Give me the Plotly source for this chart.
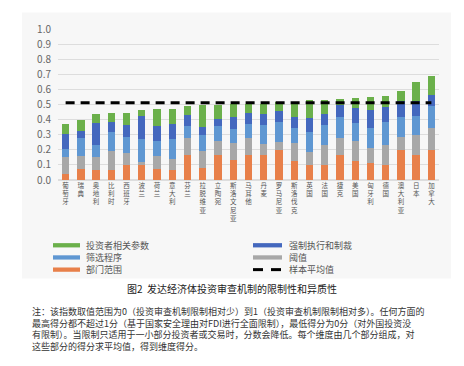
import plotly.graph_objects as go

countries = ["葡萄牙", "瑞典", "奥地利", "比利时", "西班牙", "波兰", "荷兰", "意大利", "芬兰",
             "拉脱维亚", "立陶宛", "斯洛文尼亚", "马耳他", "丹麦", "罗马尼亚", "斯洛伐克", "英国",
             "法国", "捷克", "美国", "匈牙利", "德国", "澳大利亚", "日本", "加拿大"]

sector_scope = [0.043, 0.075, 0.065, 0.065, 0.097, 0.097, 0.073, 0.064, 0.168, 0.082, 0.167, 0.133,
                0.168, 0.168, 0.200, 0.129, 0.097, 0.097, 0.166, 0.129, 0.112, 0.097, 0.200, 0.167, 0.200]
threshold = [0.112, 0.086, 0.090, 0.129, 0.081, 0.021, 0.084, 0.076, 0.112, 0.112, 0.091, 0.110,
             0.109, 0.071, 0.052, 0.116, 0.086, 0.137, 0.111, 0.127, 0.101, 0.136, 0.084, 0.133, 0.147]
screening = [0.049, 0.114, 0.077, 0.122, 0.108, 0.155, 0.101, 0.129, 0.075, 0.103, 0.097, 0.097,
             0.095, 0.127, 0.133, 0.099, 0.133, 0.129, 0.142, 0.124, 0.129, 0.151, 0.135, 0.124, 0.142]
enforcement = [0.101, 0.048, 0.148, 0.067, 0.075, 0.151, 0.097, 0.103, 0.075, 0.053, 0.049, 0.075,
               0.073, 0.074, 0.073, 0.071, 0.097, 0.074, 0.076, 0.097, 0.123, 0.100, 0.101, 0.096, 0.073]
investor = [0.067, 0.075, 0.054, 0.058, 0.084, 0.038, 0.112, 0.097, 0.060, 0.145, 0.096, 0.090,
            0.060, 0.065, 0.056, 0.103, 0.114, 0.094, 0.043, 0.067, 0.083, 0.074, 0.068, 0.132, 0.130]
sample_avg = 0.512

y_ticks = [0.0, 0.1, 0.2, 0.3, 0.4, 0.5, 0.6, 0.7, 0.8, 0.9, 1.0]

C_ORANGE = "#E8804A"
C_GRAY = "#A8A8A8"
C_LBLUE = "#5F97D2"
C_DBLUE = "#4468BE"
C_GREEN = "#6BB04B"

FONT = "Noto Sans CJK SC"

series = [
    ("部门范围", sector_scope, C_ORANGE),
    ("阈值", threshold, C_GRAY),
    ("筛选程序", screening, C_LBLUE),
    ("强制执行和制裁", enforcement, C_DBLUE),
    ("投资者相关参数", investor, C_GREEN),
]

fig = go.Figure()
for name, vals, col in series:
    fig.add_trace(go.Bar(x=countries, y=vals, name=name, marker=dict(color=col, line=dict(width=0)),
                         showlegend=False))

fig.add_trace(go.Scatter(x=countries, y=[sample_avg] * len(countries), mode="lines", name="样本平均值",
                         line=dict(color="black", width=3, dash="9px,6px"), showlegend=False))

vert_labels = ["<br>".join(list(c)) for c in countries]

# geometry helpers (pixel -> paper)
L, R, T, B = 50, 33, 17, 194
W, H = 464, 366
PW = W - L - R
PH = H - T - B
def px(x):
    return (x - L) / PW
def py(y):
    return (H - B - y) / PH

shapes = [
    dict(type="rect", xref="paper", yref="paper", x0=px(14), x1=px(443), y0=py(273), y1=py(0),
         fillcolor="#f7f7f7", line=dict(width=0), layer="below"),
]
annotations = []

legend_left = [("投资者相关参数", C_GREEN, 239), ("筛选程序", C_LBLUE, 251.5), ("部门范围", C_ORANGE, 264)]
legend_right = [("强制执行和制裁", C_DBLUE, 239), ("阈值", C_GRAY, 251.5)]
for text, col, yy in legend_left:
    shapes.append(dict(type="rect", xref="paper", yref="paper", x0=px(45), x1=px(72),
                       y0=py(yy + 2.2), y1=py(yy - 2.2), fillcolor=col, line=dict(width=0)))
    annotations.append(dict(text=text, x=px(76), y=py(yy), xref="paper", yref="paper",
                            xanchor="left", yanchor="middle", showarrow=False,
                            font=dict(family=FONT, size=9, color="#555555")))
for text, col, yy in legend_right:
    shapes.append(dict(type="rect", xref="paper", yref="paper", x0=px(245), x1=px(274),
                       y0=py(yy + 2.2), y1=py(yy - 2.2), fillcolor=col, line=dict(width=0)))
    annotations.append(dict(text=text, x=px(279), y=py(yy), xref="paper", yref="paper",
                            xanchor="left", yanchor="middle", showarrow=False,
                            font=dict(family=FONT, size=9, color="#555555")))
for x0, x1 in [(245, 255), (263, 273)]:
    shapes.append(dict(type="line", xref="paper", yref="paper", x0=px(x0), x1=px(x1),
                       y0=py(264), y1=py(264), line=dict(color="black", width=3)))
annotations.append(dict(text="样本平均值", x=px(279), y=py(264), xref="paper", yref="paper",
                        xanchor="left", yanchor="middle", showarrow=False,
                        font=dict(family=FONT, size=9, color="#555555")))

annotations.append(dict(text="图2  发达经济体投资审查机制的限制性和异质性", x=px(224), y=py(283),
                        xref="paper", yref="paper", xanchor="center", yanchor="middle", showarrow=False,
                        font=dict(family=FONT, size=10, color="#222222")))

note = ("注：该指数取值范围为0（投资审查机制限制相对少）到1（投资审查机制限制相对多）。任何方面的<br>"
        "最高得分都不超过1分（基于国家安全理由对FDI进行全面限制），最低得分为0分（对外国投资没<br>"
        "有限制）。当限制只适用于一小部分投资者或交易时，分数会降低。每个维度由几个部分组成，对<br>"
        "这些部分的得分求平均值，得到维度得分。")
annotations.append(dict(text=note, x=px(22), y=py(298), xref="paper", yref="paper",
                        xanchor="left", yanchor="top", align="left", showarrow=False,
                        font=dict(family=FONT, size=9, color="#333333")))

fig.update_layout(
    width=W, height=H,
    margin=dict(l=L, r=R, t=T, b=B),
    barmode="stack",
    bargap=0.52,
    paper_bgcolor="white",
    plot_bgcolor="rgba(0,0,0,0)",
    font=dict(family=FONT),
    shapes=shapes,
    annotations=annotations,
    xaxis=dict(tickmode="array", tickvals=countries, ticktext=vert_labels,
               tickfont=dict(family=FONT, size=6.5, color="#555555"), tickangle=0,
               showgrid=False, zeroline=False, showline=False, ticks=""),
    yaxis=dict(range=[0, 1.0], tickvals=y_ticks, ticktext=[f"{v:.1f}" for v in y_ticks],
               tickfont=dict(family=FONT, size=10, color="#666666"),
               showgrid=True, gridcolor="#DDDDDD", gridwidth=1, zeroline=True, zerolinecolor="#DDDDDD",
               showline=False, ticks="outside", ticklen=4, tickcolor="rgba(0,0,0,0)"),
)

fig.write_html("out.html")
